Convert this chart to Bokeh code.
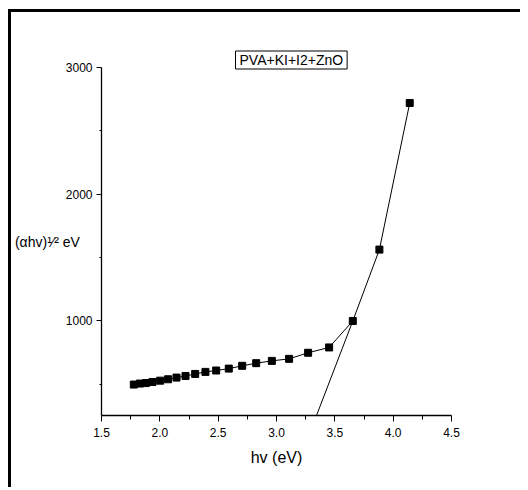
from bokeh.plotting import figure
from bokeh.models import Range1d, FixedTicker, NumeralTickFormatter, Title
from bokeh.embed import file_html
from bokeh.resources import INLINE

hv = [1.777, 1.829, 1.880, 1.937, 2.003, 2.071, 2.143, 2.220, 2.303, 2.391, 2.483,
      2.591, 2.706, 2.826, 2.960, 3.108, 3.271, 3.451, 3.654, 3.882, 4.142]
ahv = [498, 506, 510, 518, 529, 540, 553, 566, 582, 598, 609,
       624, 646, 667, 685, 701, 749, 791, 1000, 1563, 2720]
tangent_x = [3.343, 3.654]
tangent_y = [254, 1000]
x_ticks = [1.5, 2.0, 2.5, 3.0, 3.5, 4.0, 4.5]
x_minor = [1.75, 2.25, 2.75, 3.25, 3.75, 4.25]
y_ticks = [1000, 2000, 3000]
y_minor = [500, 1500, 2500]
legend_text = "PVA+KI+I2+ZnO"

FONT = "Liberation Sans"

p = figure(width=512, height=478, output_backend="svg", toolbar_location=None,
           x_range=Range1d(1.5, 4.5), y_range=Range1d(254, 3000),
           min_border_left=90, min_border_right=72, min_border_top=55, min_border_bottom=75)
p.styles = {"border-left": "3px solid black", "border-top": "3px solid black",
            "margin-left": "8px", "margin-top": "9px"}
p.outline_line_color = None
p.xgrid.visible = False
p.ygrid.visible = False
p.background_fill_color = "white"

p.xaxis.ticker = FixedTicker(ticks=x_ticks, minor_ticks=x_minor)
p.yaxis.ticker = FixedTicker(ticks=y_ticks, minor_ticks=y_minor)
p.xaxis.formatter = NumeralTickFormatter(format="0.0")
p.yaxis.bounds = (254, 3000)
for ax in (p.xaxis[0], p.yaxis[0]):
    ax.axis_line_color = "black"
    ax.axis_line_width = 1.3
    ax.major_tick_line_color = "black"
    ax.minor_tick_line_color = "black"
    ax.major_tick_in = 0
    ax.minor_tick_in = 0
    ax.major_label_text_font = FONT
    ax.major_label_text_font_size = "12px"
    ax.major_label_text_color = "black"
    ax.axis_label_text_font = FONT
    ax.axis_label_text_font_style = "normal"
    ax.axis_label_text_color = "black"
p.xaxis.major_tick_out = 6
p.xaxis.minor_tick_out = 4
p.yaxis.major_tick_out = 5
p.yaxis.minor_tick_out = 2
p.xaxis.major_label_standoff = 6
p.yaxis.major_label_standoff = 4
p.xaxis.axis_label = "hv (eV)"
p.xaxis.axis_label_text_font_size = "16px"
p.xaxis.axis_label_standoff = 9
p.yaxis.axis_label = "(αhv)¹⁄² eV"
p.yaxis.axis_label_orientation = "horizontal"
p.yaxis.axis_label_text_font_size = "14px"
p.yaxis.axis_label_standoff = -17

p.line(hv, ahv, line_color="black", line_width=1)
p.line(tangent_x, tangent_y, line_color="black", line_width=1)
p.scatter(hv, ahv, marker="square", size=7, fill_color="black", line_color="black")

t = Title(text=legend_text, align="left", offset=134, text_font=FONT,
          text_font_size="14px", text_font_style="normal", text_color="black",
          border_line_color="black", border_line_width=1,
          background_fill_color="white", padding=(4, 1), standoff=-3)
p.add_layout(t, "above")

open("out.html", "w").write(file_html(p, INLINE))
